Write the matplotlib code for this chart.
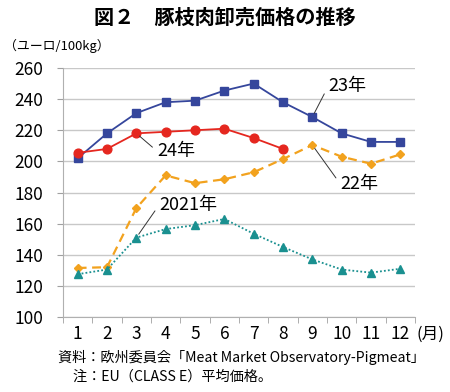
import matplotlib
matplotlib.use("Agg")
import matplotlib.pyplot as plt

plt.rcParams['font.family'] = ['Noto Sans CJK JP', 'DejaVu Sans']

months = [1, 2, 3, 4, 5, 6, 7, 8, 9, 10, 11, 12]
month_labels = ["1", "2", "3", "4", "5", "6", "7", "8", "9", "10", "11", "12"]
y2023 = [202, 218, 231, 238, 239, 245.5, 250, 238, 228.5, 218, 212.5, 212.5]
y2024 = [205.5, 208, 218, 219, 220, 221, 215, 208]
y2022 = [131.5, 132, 170, 191, 186, 188.5, 193, 201.5, 210.5, 203, 198.5, 204.5]
y2021 = [127.5, 130.5, 151, 156.5, 159, 163, 153.5, 145, 137, 130.5, 128.5, 131]
yticks = [100, 120, 140, 160, 180, 200, 220, 240, 260]

fig = plt.figure(figsize=(4.5, 3.92), dpi=100)
ax = fig.add_axes([63/450, 1-317/392, (415-63)/450, (317-68)/392])

c23 = "#35469C"
c24 = "#E5271F"
c22 = "#F2A21E"
c21 = "#1A9090"

ax.plot(months, y2022, color=c22, lw=1.6, ls=(0, (4, 2.5)), marker='D', ms=4.5, zorder=3)
ax.plot(months, y2021, color=c21, lw=1.3, ls=(0, (1, 1.2)), marker='^', ms=6, zorder=3)
ax.plot(months, y2023, color=c23, lw=1.3, marker='s', ms=5.5, zorder=4)
ax.plot(months[:len(y2024)], y2024, color=c24, lw=1.3, marker='o', ms=6.3, zorder=5)

ax.set_xlim(0.5, 12.5)
ax.set_ylim(100, 260)
ax.set_yticks(yticks)
ax.set_yticklabels([str(v) for v in yticks], fontsize=12.5)
ax.set_xticks(months)
ax.set_xticklabels(month_labels, fontsize=12.5)
ax.set_xticks([m + 0.5 for m in [0] + months], minor=True)
ax.tick_params(axis='x', which='major', length=0, pad=6)
ax.tick_params(axis='x', which='minor', length=4, color='#A0A0A0', direction='out')
ax.tick_params(axis='y', length=4, color='#A0A0A0', direction='out', pad=10)
ax.grid(axis='y', color='#C8C8C8', lw=1.0)
ax.set_axisbelow(True)
for s in ['top', 'right']:
    ax.spines[s].set_visible(False)
for s in ['left', 'bottom']:
    ax.spines[s].set_color('#B0B0B0')

def label(txt, mi, vals, off):
    ax.annotate(txt, xy=(months[mi], vals[mi]), xytext=off, textcoords='offset pixels',
                ha='left', va='center', fontsize=13,
                arrowprops=dict(arrowstyle='-', color='#333333', lw=0.7,
                                shrinkA=2, shrinkB=3, relpos=(0, 0.5)),
                zorder=6)

label("23年", 8, y2023, (16, 31))
label("24年", 2, y2024, (21, -18))
label("22年", 8, y2022, (28, -39))
label("2021年", 2, y2021, (23, 33))

fig.text(225/450, 1-17/392, "図２　豚枝肉卸売価格の推移", ha='center', va='center',
         fontsize=14.5, fontweight='bold')
fig.text(4/450, 1-46/392, "（ユーロ/100kg）", ha='left', va='center', fontsize=9.3)
fig.text(416/450, 1-334/392, "(月)", ha='left', va='center', fontsize=12)
fig.text(58/450, 1-357/392, "資料：欧州委員会「Meat Market Observatory-Pigmeat」",
         ha='left', va='center', fontsize=10.2)
fig.text(73/450, 1-377/392, "注：EU（CLASS E）平均価格。", ha='left', va='center', fontsize=10.2)

fig.savefig("out.png", dpi=100)
